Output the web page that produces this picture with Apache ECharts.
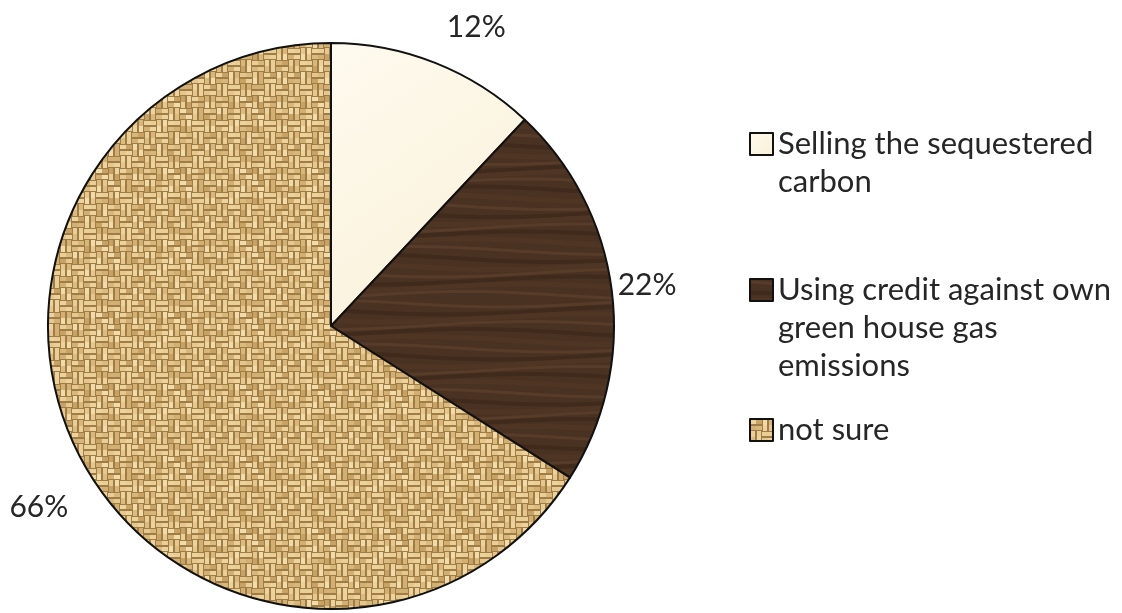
<!DOCTYPE html>
<html>
<head>
<meta charset="utf-8">
<script src="https://cdn.jsdelivr.net/npm/echarts@6/dist/echarts.min.js"></script>
<style>
html,body{margin:0;padding:0;background:#fff;}
#chart{width:1122px;height:613px;}
</style>
</head>
<body>
<div id="chart"></div>
<script>
// ---- data ----
const categories = ['Selling the sequestered carbon', 'Using credit against own green house gas emissions', 'not sure'];
const legendLines = [['Selling the sequestered', 'carbon'], ['Using credit against own', 'green house gas', 'emissions'], ['not sure']];
const values = [12, 22, 66];

// ---- textures (styling only) ----
function burlapTexture() {
  const c = document.createElement('canvas');
  const n = 12, s = 6;
  c.width = n * s; c.height = n * s;
  const g = c.getContext('2d');
  g.fillStyle = '#a07d47'; g.fillRect(0, 0, c.width, c.height);
  const pal = ['#ecd39c', '#dbbc80', '#f1dba9', '#d2b073', '#e6c78d', '#c6a264', '#e9ce95', '#d8b77a'];
  for (let i = 0; i < n; i++) {
    for (let j = 0; j < n; j++) {
      const x = i * s, y = j * s;
      g.fillStyle = pal[(i * 5 + j * 3 + ((i * j * 7) % 11)) % pal.length];
      if (((i >> 1) + (j >> 1)) % 2 === 0) g.fillRect(x, y + 1, s, s - 2);
      else g.fillRect(x + 1, y, s - 2, s);
    }
  }
  return c;
}
function woodTexture() {
  const c = document.createElement('canvas');
  c.width = 400; c.height = 300;
  const g = c.getContext('2d');
  g.fillStyle = '#4a3222'; g.fillRect(0, 0, 400, 300);
  for (let k = 0; k < 40; k++) {
    g.beginPath();
    const y0 = k * 7.5 + 3;
    for (let x = 0; x <= 400; x += 10) {
      const y = y0 + 4 * Math.sin(2 * Math.PI * x / 400 + k * 0.9);
      if (x === 0) g.moveTo(x, y); else g.lineTo(x, y);
    }
    g.strokeStyle = k % 3 === 0 ? 'rgba(105,74,52,0.45)' : (k % 3 === 1 ? 'rgba(52,34,22,0.45)' : 'rgba(88,60,41,0.35)');
    g.lineWidth = 3 + (k % 3);
    g.stroke();
  }
  return c;
}
const cream = {
  type: 'linear', x: 0, y: 0, x2: 1, y2: 1,
  colorStops: [{offset: 0, color: '#fefaee'}, {offset: 1, color: '#f9f0d8'}]
};
const fills = [cream, {image: woodTexture(), repeat: 'repeat'}, {image: burlapTexture(), repeat: 'repeat'}];
const labelShift = [[3, -26], [-9, -4], [-1, 40]];
const legendTops = [87, 195, 411];

const chart = echarts.init(document.getElementById('chart'), null, {renderer: 'canvas'});
const fontFamily = 'Lato, "Open Sans", sans-serif';

// Blank lines in front keep the icon level with the first line of a wrapped entry.
function legendText(i) {
  const lines = legendLines[i];
  return new Array(lines.length - 1).fill('').concat(lines).join('\n');
}

const option = {
  backgroundColor: '#ffffff',
  animation: false,
  legend: categories.map((name, i) => ({
    orient: 'vertical',
    left: 749,
    top: legendTops[i],
    padding: 0,
    itemWidth: 23,
    itemHeight: 22,
    icon: 'rect',
    selectedMode: false,
    data: [name],
    formatter: (n) => legendText(categories.indexOf(n)),
    textStyle: {fontFamily: fontFamily, fontSize: 31, lineHeight: 38, color: '#262626'}
  })),
  series: [{
    type: 'pie',
    center: [331, 326],
    radius: 283,
    startAngle: 90,
    clockwise: true,
    avoidLabelOverlap: false,
    data: categories.map((name, i) => ({
      name: name,
      value: values[i],
      itemStyle: {color: fills[i]}
    })),
    itemStyle: {borderColor: '#111', borderWidth: 2},
    label: {
      show: true,
      position: 'outside',
      formatter: '{c}%',
      fontFamily: fontFamily,
      fontSize: 30,
      color: '#262626'
    },
    labelLine: {show: false, length: 10, length2: 0},
    labelLayout: (params) => ({dx: labelShift[params.dataIndex][0], dy: labelShift[params.dataIndex][1]}),
    emphasis: {disabled: true}
  }]
};
chart.setOption(option);
</script>
</body>
</html>
